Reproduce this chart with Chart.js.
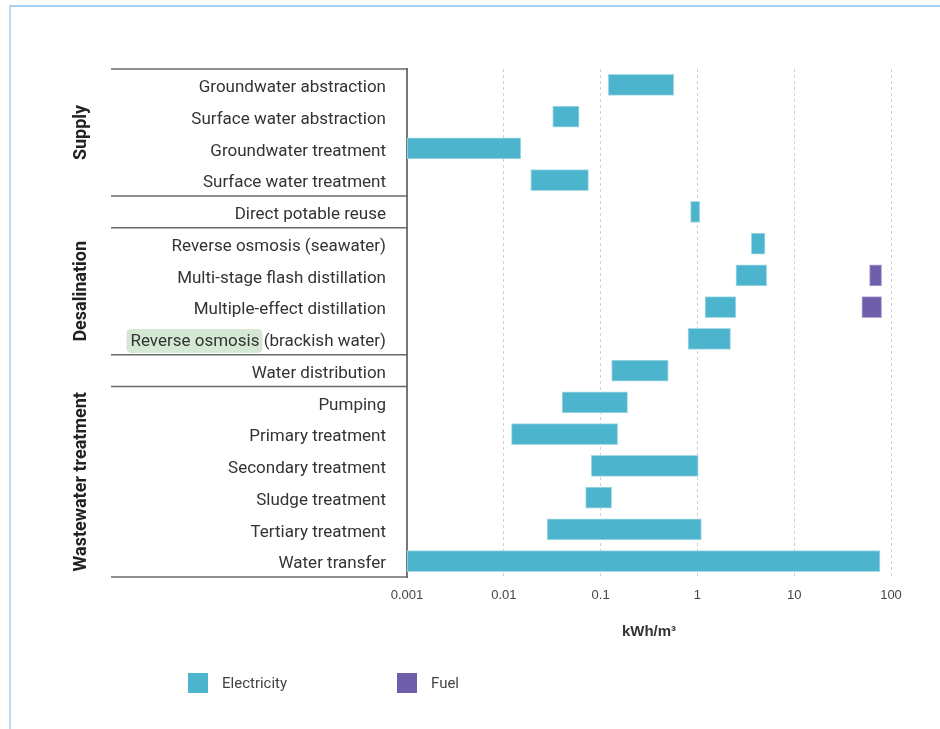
<!DOCTYPE html>
<html>
<head>
<meta charset="utf-8">
<script src="https://cdn.jsdelivr.net/npm/chart.js@4/dist/chart.umd.min.js"></script>
<style>
  html, body { margin: 0; padding: 0; background: #fff; }
  #wrap { position: relative; width: 940px; height: 729px; overflow: hidden; }
  #frame { position: absolute; left: 9px; top: 5px; right: -4px; bottom: -4px;
           border-top: 2px solid #a8d0f0; border-left: 2px solid #bcdcf3; }
  #chart { position: absolute; left: 0; top: 0; }
  .lg-item { position: absolute; top: 673px; display: flex; align-items: center;
             font: 15px Roboto, sans-serif; color: #444; }
  .lg-box { width: 20px; height: 20px; margin-right: 14px; }
</style>
</head>
<body>
<div id="wrap">
  <div id="frame"></div>
  <canvas id="chart" width="940" height="729"></canvas>
  <div id="legend"></div>
</div>
<script>
// Processes in the water cycle, top to bottom
const categories = [
  'Groundwater abstraction',
  'Surface water abstraction',
  'Groundwater treatment',
  'Surface water treatment',
  'Direct potable reuse',
  'Reverse osmosis (seawater)',
  'Multi-stage flash distillation',
  'Multiple-effect distillation',
  'Reverse osmosis (brackish water)',
  'Water distribution',
  'Pumping',
  'Primary treatment',
  'Secondary treatment',
  'Sludge treatment',
  'Tertiary treatment',
  'Water transfer'
];

// Energy intensity ranges, kWh/m³
const electricityLow  = [0.12, 0.032, 0.001, 0.019, 0.85, 3.6, 2.5, 1.2, 0.8, 0.13, 0.04, 0.012, 0.08, 0.07, 0.028, 0.001];
const electricityHigh = [0.57, 0.06, 0.015, 0.075, 1.06, 5.0, 5.2, 2.5, 2.2, 0.5, 0.19, 0.15, 1.02, 0.13, 1.1, 77];
const fuelLow  = [null, null, null, null, null, null, 60, 50, null, null, null, null, null, null, null, null];
const fuelHigh = [null, null, null, null, null, null, 80, 80, null, null, null, null, null, null, null, null];

// Log axis decades
const xTicks = [0.001, 0.01, 0.1, 1, 10, 100];

// Process groups (first and last category index)
const groups = [
  { name: 'Supply', from: 0, to: 3 },
  { name: 'Desalination', from: 5, to: 8 },
  { name: 'Wastewater treatment', from: 10, to: 15 }
];
// Separator lines are drawn below these category indices
const separatorsAfter = [3, 4, 8, 9];
// Label with a highlighted leading phrase
const highlightIndex = 8;
const highlightText = 'Reverse osmosis';

const COLORS = { electricity: '#4cb4cc', fuel: '#6f5fab' };
const LABEL_SIZE = 17;
const LABEL_FONT = LABEL_SIZE + 'px Roboto, sans-serif';
const LABEL_PAD = 21;
const LABEL_SHIFT = 3;

const pairs = (lo, hi) => lo.map((v, i) => (v == null || hi[i] == null) ? null : [v, hi[i]]);

const groupPlugin = {
  id: 'groupPlugin',
  beforeDraw(chart) {
    const { ctx } = chart;
    const y = chart.scales.y;
    ctx.save();
    ctx.font = LABEL_FONT;
    const right = chart.chartArea.left - LABEL_PAD;
    const full = ctx.measureText(categories[highlightIndex]).width;
    const part = ctx.measureText(highlightText).width;
    const left = right - full;
    const cy = y.getPixelForValue(highlightIndex) + LABEL_SHIFT - 1;
    ctx.fillStyle = '#d4e8d3';
    ctx.beginPath();
    ctx.roundRect(left - 4, cy - 12, part + 7, 24, 5);
    ctx.fill();
    ctx.restore();
  },
  afterDraw(chart) {
    const { ctx, chartArea } = chart;
    const y = chart.scales.y;
    const step = y.getPixelForValue(1) - y.getPixelForValue(0);
    const x0 = 111, x1 = chartArea.left;
    ctx.save();
    ctx.strokeStyle = '#6a6a6a';
    ctx.lineWidth = 1.6;
    const rows = [chartArea.top, chartArea.bottom].concat(
      separatorsAfter.map(i => y.getPixelForValue(i) + step / 2));
    rows.forEach(py => {
      ctx.beginPath();
      ctx.moveTo(x0, py);
      ctx.lineTo(x1 + 1, py);
      ctx.stroke();
    });
    ctx.fillStyle = '#222';
    ctx.font = 'bold 18px Roboto, sans-serif';
    ctx.textAlign = 'center';
    ctx.textBaseline = 'middle';
    groups.forEach(g => {
      const cy = (y.getPixelForValue(g.from) + y.getPixelForValue(g.to)) / 2;
      ctx.save();
      ctx.translate(81, cy);
      ctx.rotate(-Math.PI / 2);
      ctx.fillText(g.name, 0, 0);
      ctx.restore();
    });
    ctx.restore();
  }
};

const chart = new Chart(document.getElementById('chart'), {
  type: 'bar',
  data: {
    labels: categories,
    datasets: [
      {
        label: 'Electricity',
        data: pairs(electricityLow, electricityHigh),
        backgroundColor: COLORS.electricity,
        borderColor: '#a9dbe7',
        borderWidth: 1,
        borderSkipped: false,
        barThickness: 21,
        grouped: false
      },
      {
        label: 'Fuel',
        data: pairs(fuelLow, fuelHigh),
        backgroundColor: COLORS.fuel,
        borderColor: '#b3aad6',
        borderWidth: 1,
        borderSkipped: false,
        barThickness: 21,
        grouped: false
      }
    ]
  },
  options: {
    indexAxis: 'y',
    responsive: false,
    animation: false,
    layout: { padding: { top: 69, right: 49, bottom: 88, left: 0 } },
    plugins: { legend: { display: false }, tooltip: { enabled: false } },
    scales: {
      x: {
        type: 'logarithmic',
        position: 'bottom',
        min: 0.001,
        max: 100,
        afterBuildTicks: axis => { axis.ticks = xTicks.map(v => ({ value: v })); },
        afterFit: axis => { axis.height = 64; },
        ticks: {
          padding: 11,
          color: '#444',
          font: { family: 'Liberation Sans, Arial, sans-serif', size: 13 },
          callback: v => String(v)
        },
        grid: {
          drawTicks: false,
          lineWidth: 1,
          color: ctx => ctx.index === 0 ? 'rgba(0,0,0,0)' : '#cfcfcf'
        },
        border: { display: false, dash: [3, 3] },
        title: {
          display: true,
          text: 'kWh/m³',
          color: '#333',
          padding: { top: 0, bottom: 0 },
          font: { family: 'Liberation Sans, Arial, sans-serif', size: 15, weight: 'bold' }
        }
      },
      y: {
        type: 'category',
        afterFit: axis => { axis.width = 407; },
        ticks: {
          padding: LABEL_PAD,
          labelOffset: LABEL_SHIFT,
          color: '#333',
          autoSkip: false,
          font: { family: 'Roboto, sans-serif', size: LABEL_SIZE }
        },
        grid: { display: false, drawTicks: false },
        border: { display: true, color: '#777', width: 2 }
      }
    }
  },
  plugins: [groupPlugin]
});

// Legend built from the datasets
const legend = document.getElementById('legend');
const legendX = [188, 397];
chart.data.datasets.forEach((ds, i) => {
  const item = document.createElement('div');
  item.className = 'lg-item';
  item.style.left = legendX[i] + 'px';
  const box = document.createElement('span');
  box.className = 'lg-box';
  box.style.background = ds.backgroundColor;
  const txt = document.createElement('span');
  txt.textContent = ds.label;
  item.appendChild(box);
  item.appendChild(txt);
  legend.appendChild(item);
});
</script>
</body>
</html>
